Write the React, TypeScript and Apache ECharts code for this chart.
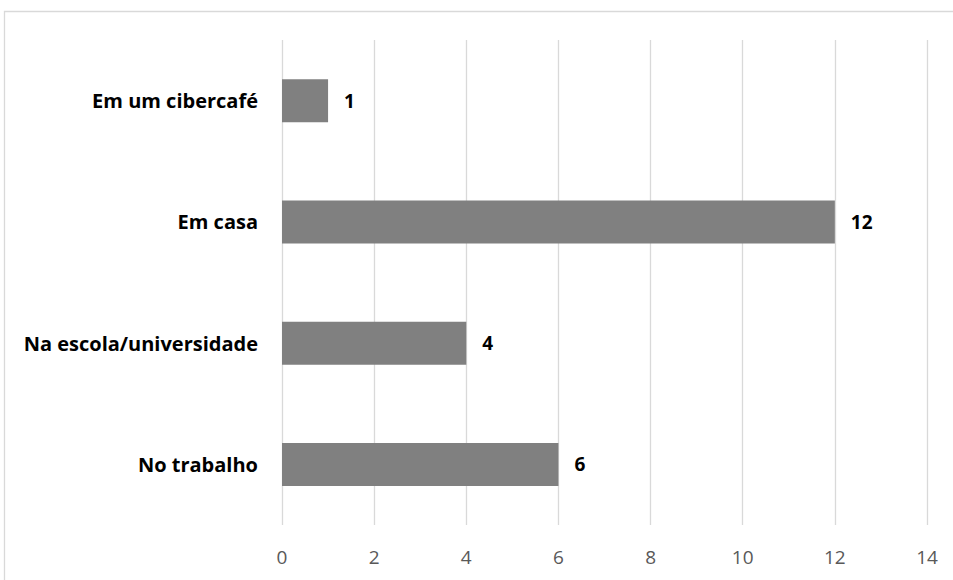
import React, { useEffect, useRef } from "react";
import * as echarts from "echarts";

const categories = ["No trabalho", "Na escola/universidade", "Em casa", "Em um cibercafé"];
const values = [6, 4, 12, 1];
const xMin = 0;
const xMax = 14;
const xInterval = 2;

export default function App() {
  const ref = useRef<HTMLDivElement>(null);
  useEffect(() => {
    document.body.style.margin = "0";
    const chart = echarts.init(ref.current!, null, { renderer: "svg" });
    chart.setOption({
      animation: false,
      backgroundColor: "#ffffff",
      graphic: [
        {
          type: "rect",
          shape: { x: 4.5, y: 11.5, width: 1200, height: 1200 },
          style: { fill: "none", stroke: "#d9d9d9", lineWidth: 1.3 },
          silent: true,
        },
      ],
      grid: { left: 282, right: 26, top: 40, bottom: 55 },
      xAxis: {
        type: "value",
        min: xMin,
        max: xMax,
        interval: xInterval,
        axisLine: { show: false },
        axisTick: { show: false },
        splitLine: { show: true, lineStyle: { color: "#d9d9d9", width: 1.3 } },
        axisLabel: {
          color: "#595959",
          fontSize: 19,
          fontFamily: "Open Sans",
          margin: 22,
        },
      },
      yAxis: {
        type: "category",
        data: categories,
        axisLine: { show: false },
        axisTick: { show: false },
        axisLabel: {
          color: "#000000",
          fontSize: 20,
          fontWeight: "bold",
          fontFamily: "Open Sans",
          margin: 24,
        },
      },
      series: [
        {
          type: "bar",
          data: values,
          barWidth: 43,
          itemStyle: { color: "#808080" },
          label: {
            show: true,
            position: "right",
            distance: 16,
            color: "#000000",
            fontSize: 19,
            fontWeight: "bold",
            fontFamily: "Open Sans",
          },
        },
      ],
    });
    return () => chart.dispose();
  }, []);
  return <div ref={ref} style={{ width: 953, height: 580 }} />;
}
